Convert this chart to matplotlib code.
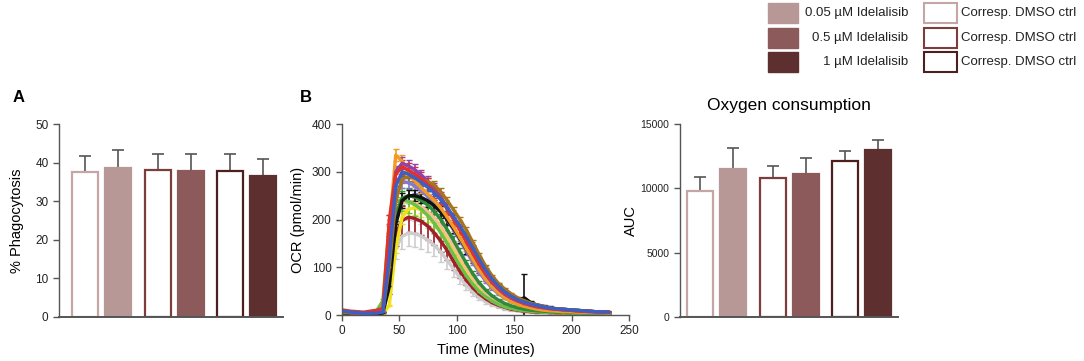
import matplotlib
matplotlib.use("Agg")
import matplotlib.pyplot as plt
from matplotlib.patches import Rectangle
import numpy as np

plt.rcParams['font.family'] = ['Liberation Sans', 'DejaVu Sans']

# ---------------- data ----------------
groups = ["DMSO 0.05", "Idelalisib 0.05 µM", "DMSO 0.5", "Idelalisib 0.5 µM", "DMSO 1", "Idelalisib 1 µM"]
phago_mean = [37.5, 38.6, 38.0, 37.7, 37.7, 36.4]
phago_err = [4.3, 4.6, 4.2, 4.5, 4.5, 4.5]

auc_mean = [9790, 11500, 10800, 11140, 12100, 13000]
auc_err = [1065, 1610, 960, 1190, 830, 760]

legend_drug = ["0.05 µM Idelalisib", "0.5 µM Idelalisib", "1 µM Idelalisib"]
legend_ctrl = ["Corresp. DMSO ctrl", "Corresp. DMSO ctrl", "Corresp. DMSO ctrl"]

time_min = [2.0, 7.6, 13.2, 18.8, 24.4, 30.0, 35.6, 41.2, 46.8, 52.4, 58.0, 63.6, 69.2, 74.8,
            80.4, 86.0, 91.6, 97.2, 102.8, 108.4, 114.0, 119.6, 125.2, 130.8, 136.4, 142.0,
            147.6, 153.2, 158.8, 164.4, 170.0, 175.6, 181.2, 186.8, 192.4, 198.0, 203.6,
            209.2, 214.8, 220.4, 226.0, 231.6]

ocr_gray = [5, 4, 4, 4, 4, 4, 6, 80, 140, 165, 172, 170, 165, 157, 146, 132, 115, 96, 78, 62, 48, 37, 28, 22, 17, 13, 11, 9, 8, 7, 6, 5, 5, 5, 4, 4, 4, 3, 3, 3, 3, 3]
ocr_darkred = [5, 4, 4, 4, 4, 5, 8, 130, 170, 198, 205, 202, 196, 186, 172, 155, 135, 112, 92, 73, 57, 44, 34, 26, 20, 16, 12, 10, 8, 7, 6, 6, 5, 5, 4, 4, 4, 4, 3, 3, 3, 3]
ocr_yellow = [5, 4, 3, 3, 3, 3, 3, 20, 140, 205, 222, 225, 220, 210, 196, 178, 156, 132, 108, 86, 67, 51, 39, 30, 23, 18, 14, 12, 10, 9, 8, 7, 6, 6, 5, 5, 4, 4, 4, 4, 3, 3]
ocr_peach = [6, 5, 4, 4, 4, 5, 8, 110, 205, 235, 237, 233, 226, 216, 203, 186, 166, 143, 120, 98, 78, 61, 47, 36, 28, 22, 17, 14, 12, 10, 9, 8, 7, 6, 6, 5, 5, 5, 4, 4, 4, 3]
ocr_green = [6, 5, 4, 4, 5, 8, 30, 190, 238, 242, 238, 231, 221, 208, 192, 172, 150, 126, 103, 82, 64, 49, 38, 29, 22, 17, 14, 11, 9, 8, 7, 6, 6, 5, 5, 4, 4, 4, 4, 3, 3, 3]
ocr_darkgreen = [5, 4, 4, 4, 4, 5, 7, 100, 210, 245, 250, 247, 240, 230, 217, 200, 179, 156, 132, 108, 86, 67, 52, 40, 31, 24, 19, 15, 12, 10, 9, 8, 7, 6, 6, 5, 5, 5, 4, 4, 4, 3]
ocr_lavender = [6, 5, 4, 4, 4, 5, 8, 140, 250, 280, 277, 270, 260, 248, 234, 218, 199, 178, 156, 133, 110, 89, 71, 56, 44, 35, 28, 23, 19, 16, 14, 12, 11, 10, 9, 8, 8, 7, 6, 6, 5, 5]
ocr_black = [5, 4, 3, 3, 3, 3, 4, 60, 190, 240, 250, 250, 246, 239, 229, 216, 200, 181, 160, 138, 116, 96, 78, 63, 51, 42, 35, 31, 36, 26, 21, 18, 15, 13, 12, 11, 10, 9, 8, 7, 7, 6]
ocr_black_err = [3, 2, 2, 2, 2, 2, 3, 15, 20, 15, 12, 12, 12, 12, 12, 12, 12, 10, 10, 10, 8, 8, 6, 6, 5, 5, 4, 4, 50, 4, 3, 3, 3, 2, 2, 2, 2, 2, 2, 2, 2, 2]
ocr_orange = [8, 5, 4, 4, 5, 6, 12, 180, 335, 322, 298, 280, 266, 253, 240, 224, 205, 184, 162, 139, 116, 94, 75, 59, 46, 36, 28, 22, 18, 15, 12, 10, 9, 8, 7, 7, 6, 6, 5, 5, 5, 4]
ocr_purple = [6, 5, 4, 4, 4, 5, 10, 160, 300, 318, 312, 304, 293, 280, 265, 247, 226, 203, 180, 155, 130, 106, 85, 68, 54, 43, 35, 29, 24, 20, 17, 15, 13, 12, 11, 10, 9, 8, 7, 7, 6, 6]
ocr_gold = [6, 5, 5, 5, 5, 6, 8, 100, 240, 285, 290, 287, 283, 279, 272, 258, 240, 220, 200, 178, 152, 126, 102, 82, 66, 54, 44, 36, 30, 25, 21, 18, 15, 13, 12, 11, 10, 9, 8, 7, 7, 6]
ocr_red = [10, 8, 7, 6, 8, 10, 14, 200, 295, 310, 303, 295, 285, 273, 259, 242, 222, 200, 178, 154, 130, 107, 87, 70, 56, 45, 37, 30, 25, 21, 18, 16, 14, 12, 11, 10, 9, 8, 8, 7, 6, 6]
ocr_blue = [8, 6, 5, 4, 4, 4, 6, 120, 270, 300, 295, 287, 278, 268, 256, 242, 225, 206, 186, 164, 140, 116, 94, 75, 60, 48, 39, 32, 27, 23, 20, 17, 15, 13, 12, 11, 10, 9, 8, 7, 7, 6]

# relative SEM per trace (approx.)
ocr_series = [
    (ocr_gray, '#cdcdcd', 0.16),
    (ocr_darkred, '#a3202a', 0.15),
    (ocr_yellow, '#f0e21a', 0.07),
    (ocr_peach, '#f6c18e', 0.05),
    (ocr_green, '#6cc04a', 0.10),
    (ocr_darkgreen, '#2f8a3b', 0.06),
    (ocr_lavender, '#8578d0', 0.05),
    (ocr_black, '#111111', None),
    (ocr_orange, '#f39a22', 0.04),
    (ocr_purple, '#8e44ad', 0.04),
    (ocr_gold, '#a8741a', 0.03),
    (ocr_red, '#e5302a', 0.05),
    (ocr_blue, '#3b5fc4', 0.03),
]

# ---------------- styling ----------------
fill_cols = ['#b89797', '#8c5a5a', '#5e2f2f']
edge_cols = ['#c6a5a5', '#7d3d3d', '#4d1f1f']
bar_x = [0, 1, 2.2, 3.2, 4.4, 5.4]
bar_face = ['white', fill_cols[0], 'white', fill_cols[1], 'white', fill_cols[2]]
bar_edge = [edge_cols[0], fill_cols[0], edge_cols[1], fill_cols[1], edge_cols[2], fill_cols[2]]
axis_col = '#555555'

fig = plt.figure(figsize=(10.84, 3.61), dpi=100)


def style_ax(ax):
    for s in ['top', 'right']:
        ax.spines[s].set_visible(False)
    for s in ['left', 'bottom']:
        ax.spines[s].set_color(axis_col)
        ax.spines[s].set_linewidth(1.0)
    ax.tick_params(colors='#222222', labelsize=8.5, length=4, width=1.0, color=axis_col)


def bar_panel(ax, means, errs):
    ax.bar(bar_x, means, width=0.79, color=bar_face, edgecolor=bar_edge, linewidth=1.6, zorder=2)
    ax.errorbar(bar_x, means, yerr=[np.zeros(len(errs)), errs], fmt='none', ecolor='#555555',
                elinewidth=1.2, capsize=4.5, capthick=1.2, zorder=1)
    ax.set_xticks([])
    style_ax(ax)
    ax.spines['bottom'].set_linewidth(1.4)


# Panel A
axA = fig.add_axes([0.0544, 0.1219, 0.2066, 0.5346])
bar_panel(axA, phago_mean, phago_err)
axA.set_xlim(-0.79, 6.0)
axA.set_ylim(0, 50)
axA.set_yticks([0, 10, 20, 30, 40, 50])
axA.set_ylabel('% Phagocytosis', fontsize=10.5, labelpad=8)

# Panel B
axB = fig.add_axes([0.3155, 0.1274, 0.2648, 0.529])
for vals, col, cv in ocr_series:
    v = np.array(vals, dtype=float)
    if cv is None:
        err = np.array(ocr_black_err, dtype=float)
    else:
        err = v * cv
    axB.errorbar(time_min, v, yerr=err, color=col, lw=2.4, elinewidth=1.2, capsize=2,
                 capthick=1.0, marker='_', ms=3)
axB.set_xlim(0, 250)
axB.set_ylim(0, 400)
axB.set_xticks([0, 50, 100, 150, 200, 250])
axB.set_yticks([0, 100, 200, 300, 400])
style_ax(axB)
axB.set_ylabel('OCR (pmol/min)', fontsize=10.5, labelpad=5)
axB.set_xlabel('Time (Minutes)', fontsize=10.5, labelpad=4)

# Panel C
axC = fig.add_axes([0.6273, 0.1219, 0.2011, 0.5346])
bar_panel(axC, auc_mean, auc_err)
axC.set_xlim(-0.61, 6.0)
axC.set_ylim(0, 15000)
axC.set_yticks([0, 5000, 10000, 15000])
axC.tick_params(labelsize=7.5)
axC.set_ylabel('AUC', fontsize=10.5, labelpad=2)
axC.set_title('Oxygen consumption', fontsize=12.5, pad=10)

# Panel letters
fig.text(0.012, 0.73, 'A', fontsize=12, fontweight='bold', va='center')
fig.text(0.277, 0.73, 'B', fontsize=12, fontweight='bold', va='center')

# Legend (figure coordinates, pixel based)
W, H = 1084.0, 361.0
rows_y = [13, 38, 62]
for i, yc in enumerate(rows_y):
    fig.patches.append(Rectangle((768 / W, 1 - (yc + 10) / H), 30 / W, 20 / H,
                                 transform=fig.transFigure, facecolor=fill_cols[i],
                                 edgecolor=fill_cols[i], lw=1))
    fig.text(908 / W, 1 - yc / H, legend_drug[i], ha='right', va='center', fontsize=9.5, color='#222222')
    fig.patches.append(Rectangle((924 / W, 1 - (yc + 10) / H), 33 / W, 20 / H,
                                 transform=fig.transFigure, facecolor='white',
                                 edgecolor=edge_cols[i], lw=1.5))
    fig.text(961 / W, 1 - yc / H, legend_ctrl[i], ha='left', va='center', fontsize=9.5, color='#222222')

fig.savefig('out.png', dpi=100)
